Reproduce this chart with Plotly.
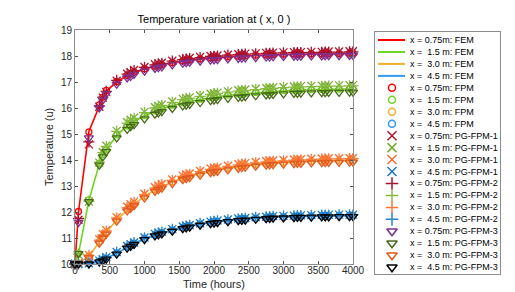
import plotly.graph_objects as go

# ---------------- data ----------------
time_h = [0, 50, 200, 350, 400, 450, 600, 750, 800, 850, 1000, 1150, 1200, 1250, 1400,
          1550, 1600, 1650, 1800, 1950, 2000, 2050, 2200, 2350, 2400, 2450, 2600, 2750,
          2800, 2850, 3000, 3150, 3200, 3250, 3400, 3550, 3600, 3650, 3800, 3950, 4000]

fem_075 = [10.0, 12.0, 15.1, 16.1, 16.4, 16.65, 17.0, 17.25, 17.3, 17.38, 17.5, 17.6, 17.63, 17.66, 17.74, 17.8, 17.82, 17.84, 17.88, 17.92, 17.93, 17.94, 17.97, 17.99, 18.0, 18.01, 18.02, 18.04, 18.04, 18.05, 18.06, 18.07, 18.07, 18.07, 18.08, 18.08, 18.09, 18.09, 18.09, 18.1, 18.1]
fem_15 = [10.0, 10.4, 12.45, 13.85, 14.2, 14.4, 14.95, 15.3, 15.4, 15.48, 15.7, 15.88, 15.93, 15.98, 16.1, 16.2, 16.23, 16.26, 16.33, 16.4, 16.42, 16.44, 16.49, 16.53, 16.54, 16.56, 16.59, 16.62, 16.63, 16.64, 16.66, 16.68, 16.68, 16.69, 16.7, 16.71, 16.71, 16.72, 16.72, 16.73, 16.73]
fem_30 = [10.0, 10.02, 10.3, 10.85, 11.05, 11.2, 11.7, 12.1, 12.2, 12.3, 12.6, 12.85, 12.92, 12.98, 13.15, 13.3, 13.34, 13.38, 13.48, 13.57, 13.6, 13.62, 13.68, 13.74, 13.76, 13.78, 13.82, 13.86, 13.87, 13.88, 13.9, 13.92, 13.93, 13.93, 13.95, 13.96, 13.96, 13.97, 13.97, 13.98, 13.98]
fem_45 = [10.0, 10.0, 10.02, 10.1, 10.15, 10.22, 10.42, 10.65, 10.72, 10.79, 10.98, 11.12, 11.16, 11.2, 11.3, 11.4, 11.43, 11.46, 11.53, 11.59, 11.61, 11.63, 11.67, 11.71, 11.72, 11.73, 11.76, 11.78, 11.79, 11.8, 11.81, 11.82, 11.83, 11.83, 11.84, 11.85, 11.85, 11.85, 11.86, 11.86, 11.86]

fpm_075 = [10.0, 12.02, 15.08, 16.12, 16.42, 16.68, 17.02, 17.26, 17.31, 17.39, 17.51, 17.61, 17.64, 17.67, 17.75, 17.81, 17.83, 17.85, 17.89, 17.93, 17.94, 17.95, 17.98, 18.0, 18.01, 18.02, 18.03, 18.05, 18.05, 18.06, 18.07, 18.08, 18.08, 18.08, 18.09, 18.09, 18.1, 18.1, 18.1, 18.11, 18.11]
fpm_15 = [10.0, 10.42, 12.47, 13.87, 14.22, 14.42, 14.97, 15.31, 15.41, 15.49, 15.71, 15.89, 15.94, 15.99, 16.11, 16.21, 16.24, 16.27, 16.34, 16.41, 16.43, 16.45, 16.5, 16.54, 16.55, 16.57, 16.6, 16.63, 16.64, 16.65, 16.67, 16.69, 16.69, 16.7, 16.71, 16.72, 16.72, 16.73, 16.73, 16.74, 16.74]
fpm_30 = [10.0, 10.02, 10.31, 10.86, 11.06, 11.21, 11.71, 12.11, 12.21, 12.31, 12.61, 12.86, 12.93, 12.99, 13.16, 13.31, 13.35, 13.39, 13.49, 13.58, 13.61, 13.63, 13.69, 13.75, 13.77, 13.79, 13.83, 13.87, 13.88, 13.89, 13.91, 13.93, 13.94, 13.94, 13.96, 13.97, 13.97, 13.98, 13.98, 13.99, 13.99]
fpm_45 = [10.0, 10.0, 10.02, 10.11, 10.16, 10.23, 10.43, 10.66, 10.73, 10.8, 10.99, 11.13, 11.17, 11.21, 11.31, 11.41, 11.44, 11.47, 11.54, 11.6, 11.62, 11.64, 11.68, 11.72, 11.73, 11.74, 11.77, 11.79, 11.8, 11.81, 11.82, 11.83, 11.84, 11.84, 11.85, 11.86, 11.86, 11.86, 11.87, 11.87, 11.87]

pg1_075 = [10.0, 11.7, 14.6, 16.05, 16.4, 16.62, 17.05, 17.32, 17.38, 17.46, 17.58, 17.68, 17.71, 17.74, 17.82, 17.88, 17.9, 17.92, 17.96, 18.0, 18.01, 18.02, 18.05, 18.07, 18.08, 18.09, 18.1, 18.12, 18.12, 18.13, 18.14, 18.15, 18.15, 18.15, 18.16, 18.16, 18.17, 18.17, 18.17, 18.18, 18.18]
pg1_15 = [10.0, 10.35, 12.4, 13.9, 14.3, 14.55, 15.12, 15.45, 15.55, 15.63, 15.85, 16.03, 16.08, 16.13, 16.25, 16.35, 16.38, 16.41, 16.48, 16.55, 16.57, 16.59, 16.64, 16.68, 16.69, 16.71, 16.74, 16.77, 16.78, 16.79, 16.81, 16.83, 16.83, 16.84, 16.85, 16.86, 16.86, 16.87, 16.87, 16.88, 16.88]
pg1_30 = [10.0, 10.05, 10.35, 10.95, 11.15, 11.3, 11.8, 12.2, 12.3, 12.4, 12.7, 12.95, 13.02, 13.08, 13.25, 13.4, 13.44, 13.48, 13.58, 13.67, 13.7, 13.72, 13.78, 13.84, 13.86, 13.88, 13.92, 13.96, 13.97, 13.98, 14.0, 14.02, 14.03, 14.03, 14.05, 14.06, 14.06, 14.07, 14.07, 14.08, 14.08]
pg1_45 = [10.0, 10.0, 10.03, 10.13, 10.18, 10.26, 10.46, 10.69, 10.76, 10.83, 11.02, 11.16, 11.2, 11.24, 11.34, 11.44, 11.47, 11.5, 11.57, 11.63, 11.65, 11.67, 11.71, 11.75, 11.76, 11.77, 11.8, 11.82, 11.83, 11.84, 11.85, 11.86, 11.87, 11.87, 11.88, 11.89, 11.89, 11.89, 11.9, 11.9, 11.9]

pg2_075 = [10.0, 11.75, 14.7, 16.08, 16.42, 16.64, 17.06, 17.3, 17.36, 17.44, 17.56, 17.66, 17.69, 17.72, 17.8, 17.86, 17.88, 17.9, 17.94, 17.98, 17.99, 18.0, 18.03, 18.05, 18.06, 18.07, 18.08, 18.1, 18.1, 18.11, 18.12, 18.13, 18.13, 18.13, 18.14, 18.14, 18.15, 18.15, 18.15, 18.16, 18.16]
pg2_15 = [10.0, 10.38, 12.42, 13.92, 14.28, 14.52, 15.1, 15.42, 15.52, 15.6, 15.82, 16.0, 16.05, 16.1, 16.22, 16.32, 16.35, 16.38, 16.45, 16.52, 16.54, 16.56, 16.61, 16.65, 16.66, 16.68, 16.71, 16.74, 16.75, 16.76, 16.78, 16.8, 16.8, 16.81, 16.82, 16.83, 16.83, 16.84, 16.84, 16.85, 16.85]
pg2_30 = [10.0, 10.04, 10.33, 10.92, 11.12, 11.27, 11.77, 12.17, 12.27, 12.37, 12.67, 12.92, 12.99, 13.05, 13.22, 13.37, 13.41, 13.45, 13.55, 13.64, 13.67, 13.69, 13.75, 13.81, 13.83, 13.85, 13.89, 13.93, 13.94, 13.95, 13.97, 13.99, 14.0, 14.0, 14.02, 14.03, 14.03, 14.04, 14.04, 14.05, 14.05]
pg2_45 = [10.0, 10.0, 10.03, 10.12, 10.17, 10.25, 10.45, 10.68, 10.75, 10.82, 11.01, 11.15, 11.19, 11.23, 11.33, 11.43, 11.46, 11.49, 11.56, 11.62, 11.64, 11.66, 11.7, 11.74, 11.75, 11.76, 11.79, 11.81, 11.82, 11.83, 11.84, 11.85, 11.86, 11.86, 11.87, 11.88, 11.88, 11.88, 11.89, 11.89, 11.89]

pg3_075 = [10.0, 11.6, 14.85, 16.0, 16.3, 16.55, 16.92, 17.16, 17.21, 17.29, 17.42, 17.52, 17.55, 17.58, 17.66, 17.72, 17.74, 17.76, 17.8, 17.84, 17.85, 17.86, 17.89, 17.91, 17.92, 17.93, 17.94, 17.96, 17.96, 17.97, 17.98, 17.99, 17.99, 17.99, 18.0, 18.0, 18.01, 18.01, 18.01, 18.02, 18.02]
pg3_15 = [10.0, 10.4, 12.4, 13.8, 14.12, 14.32, 14.85, 15.18, 15.28, 15.36, 15.58, 15.76, 15.81, 15.86, 15.98, 16.08, 16.11, 16.14, 16.21, 16.28, 16.3, 16.32, 16.37, 16.41, 16.42, 16.44, 16.47, 16.5, 16.51, 16.52, 16.54, 16.56, 16.56, 16.57, 16.58, 16.59, 16.59, 16.6, 16.6, 16.61, 16.61]
pg3_30 = [10.0, 10.0, 10.25, 10.8, 11.0, 11.15, 11.65, 12.04, 12.14, 12.24, 12.54, 12.79, 12.86, 12.92, 13.09, 13.24, 13.28, 13.32, 13.42, 13.51, 13.54, 13.56, 13.62, 13.68, 13.7, 13.72, 13.76, 13.8, 13.81, 13.82, 13.84, 13.86, 13.87, 13.87, 13.89, 13.9, 13.9, 13.91, 13.91, 13.92, 13.92]
pg3_45 = [10.0, 10.0, 10.0, 10.08, 10.12, 10.19, 10.38, 10.61, 10.68, 10.75, 10.94, 11.08, 11.12, 11.16, 11.26, 11.36, 11.39, 11.42, 11.49, 11.55, 11.57, 11.59, 11.63, 11.67, 11.68, 11.69, 11.72, 11.74, 11.75, 11.76, 11.77, 11.78, 11.79, 11.79, 11.8, 11.81, 11.81, 11.81, 11.82, 11.82, 11.82]

positions = ["0.75m", "\u00a01.5 m", "\u00a03.0 m", "\u00a04.5 m"]
methods = ["FEM", "FPM", "PG-FPM-1", "PG-FPM-2", "PG-FPM-3"]
x_ticks = [0, 500, 1000, 1500, 2000, 2500, 3000, 3500, 4000]
y_ticks = [10, 11, 12, 13, 14, 15, 16, 17, 18, 19]

# ---------------- styles ----------------
W, H = 515, 292
FONT = "Liberation Sans, Arial, Helvetica, sans-serif"

series = {
    "FEM": [fem_075, fem_15, fem_30, fem_45],
    "FPM": [fpm_075, fpm_15, fpm_30, fpm_45],
    "PG-FPM-1": [pg1_075, pg1_15, pg1_30, pg1_45],
    "PG-FPM-2": [pg2_075, pg2_15, pg2_30, pg2_45],
    "PG-FPM-3": [pg3_075, pg3_15, pg3_30, pg3_45],
}
colors = {
    "FEM": ["#ff0000", "#6fd41f", "#efb02e", "#3399ee"],
    "FPM": ["#ff0000", "#6fd41f", "#efb02e", "#3399ee"],
    "PG-FPM-1": ["#b3122e", "#76aa2e", "#ff6a2a", "#1877c2"],
    "PG-FPM-2": ["#a2142f", "#86bb40", "#ff7a3a", "#2a86cc"],
    "PG-FPM-3": ["#7e2f8e", "#4a6b1a", "#e05a22", "#000000"],
}
symbols = {"FPM": "circle-open", "PG-FPM-1": "x-thin-open",
           "PG-FPM-2": "cross-thin-open", "PG-FPM-3": "triangle-down-open"}
sizes = {"FPM": 6, "PG-FPM-1": 8, "PG-FPM-2": 8, "PG-FPM-3": 8}

fig = go.Figure()

# data traces
for m in methods:
    for i in range(4):
        if m == "FEM":
            fig.add_trace(go.Scatter(x=time_h, y=series[m][i], mode="lines",
                                     line=dict(color=colors[m][i], width=1.6),
                                     showlegend=False, cliponaxis=False))
        else:
            fig.add_trace(go.Scatter(x=time_h, y=series[m][i], mode="markers",
                                     marker=dict(symbol=symbols[m], size=sizes[m],
                                                 color=colors[m][i],
                                                 line=dict(color=colors[m][i], width=1.3)),
                                     showlegend=False, cliponaxis=False))

# custom legend drawn on a secondary axis pair
row = 0
annotations = []
for m in methods:
    for i in range(4):
        label = "x =\u00a0" + positions[i] + ": " + m
        if m == "FEM":
            fig.add_trace(go.Scatter(x=[3, 30], y=[row, row], mode="lines",
                                     line=dict(color=colors[m][i], width=2),
                                     xaxis="x2", yaxis="y2", showlegend=False, hoverinfo="skip"))
        else:
            fig.add_trace(go.Scatter(x=[17], y=[row], mode="markers",
                                     marker=dict(symbol=symbols[m], size=sizes[m] + 1,
                                                 color=colors[m][i],
                                                 line=dict(color=colors[m][i], width=1.5)),
                                     xaxis="x2", yaxis="y2", showlegend=False,
                                     cliponaxis=False, hoverinfo="skip"))
        annotations.append(dict(x=33, y=row, xref="x2", yref="y2", text=label,
                                showarrow=False, xanchor="left", yanchor="middle",
                                font=dict(size=9, color="#000000", family=FONT)))
        row += 1

annotations.append(dict(x=206 / W, y=1 - 284 / H, xref="paper", yref="paper",
                        text="Time (hours)", showarrow=False,
                        xanchor="center",
                        font=dict(size=11, color="#262626", family=FONT)))
annotations.append(dict(x=41 / W, y=1 - 139 / H, xref="paper", yref="paper",
                        text="Temperature (u)", textangle=-90, showarrow=False,
                        xanchor="center", yanchor="middle",
                        font=dict(size=11, color="#262626", family=FONT)))

axis_common = dict(showgrid=False, zeroline=False, showline=True, linecolor="#8c8c8c",
                   linewidth=1, mirror="ticks", ticks="inside", ticklen=3,
                   tickcolor="#555555", tickfont=dict(size=10, color="#262626", family=FONT),
                   automargin=False)

fig.update_layout(
    width=W, height=H,
    margin=dict(l=0, r=0, t=0, b=0),
    paper_bgcolor="white", plot_bgcolor="white",
    font=dict(family=FONT),
    showlegend=False,
    title=dict(text="Temperature variation at ( x, 0 )", x=206 / W, xanchor="center",
               y=1 - 11 / H, yanchor="middle",
               font=dict(size=11, color="#000000", family=FONT)),
    xaxis=dict(domain=[67 / W, 345 / W], range=[0, 4000], tickvals=x_ticks,
               ticktext=[str(v) for v in x_ticks], ticklabelstandoff=-3, **axis_common),
    yaxis=dict(domain=[1 - 256 / H, 1 - 22 / H], range=[10, 19], tickvals=y_ticks,
               ticktext=[str(v) for v in y_ticks], **axis_common),
    xaxis2=dict(domain=[367 / W, 492 / W], range=[0, 125], anchor="y2",
                showgrid=False, zeroline=False, showticklabels=False, ticks="",
                showline=True, mirror=True, linecolor="#8c8c8c", linewidth=1),
    yaxis2=dict(domain=[1 - 266 / H, 1 - 24 / H], range=[19.57, -0.67], anchor="x2",
                showgrid=False, zeroline=False, showticklabels=False, ticks="",
                showline=True, mirror=True, linecolor="#8c8c8c", linewidth=1),
    annotations=annotations,
)

fig.write_html("out.html")
